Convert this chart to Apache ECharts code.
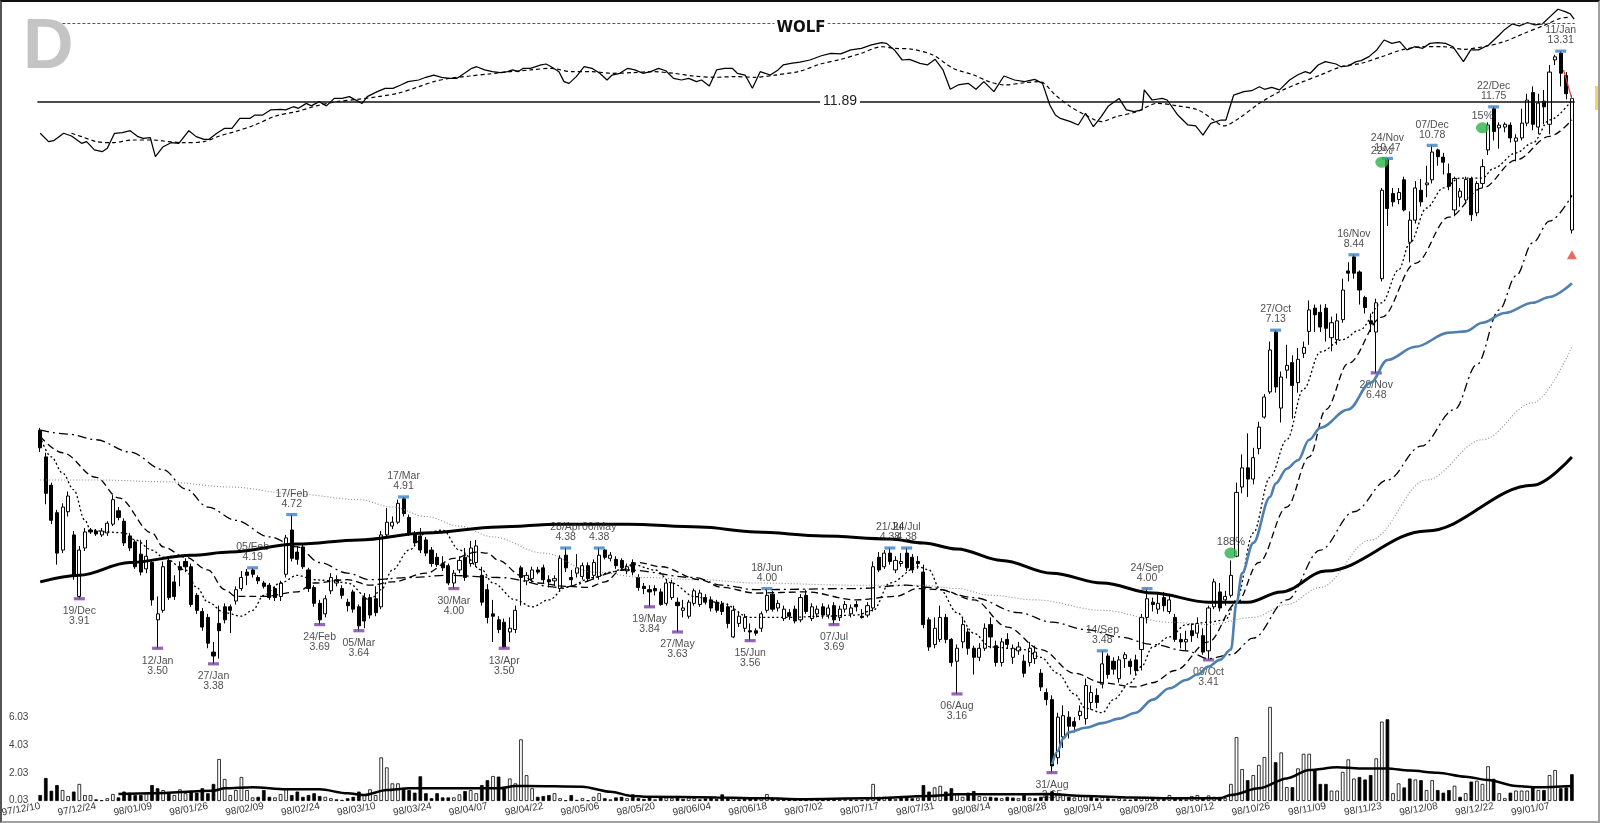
<!DOCTYPE html>
<html><head><meta charset="utf-8"><title>WOLF</title>
<script src="https://cdn.jsdelivr.net/npm/echarts/dist/echarts.min.js"></script>
<style>
html,body{margin:0;padding:0;background:#fff;}
#wrap{position:relative;width:1600px;height:823px;overflow:hidden;background:#fff;}
#c{position:absolute;left:0;top:0;width:1600px;height:823px;}
#frame{position:absolute;left:0;top:0;width:1600px;height:823px;box-sizing:border-box;border:2px solid #a0a0a0;border-top:2px solid #111;border-left:2px solid #555;pointer-events:none;}
</style></head><body>
<div id="wrap"><div id="c"></div><div id="frame"></div></div>
<script>
// ---------- DATA ----------
const ticker = 'WOLF';
const firstDay = '1997-12-10', lastDay = '1999-01-13';
const holidays = ['1997-12-25','1998-01-01','1998-01-19','1998-02-16','1998-04-10','1998-05-25','1998-07-03','1998-09-07','1998-11-26','1998-12-25','1999-01-01'];

const opens = [
5.70,5.37,5.04,4.74,4.36,4.75,4.51,3.93,4.38,4.56,
4.55,4.51,4.53,4.62,4.76,4.65,4.50,4.44,4.32,4.18,
4.24,3.73,3.81,4.26,4.06,4.20,4.25,4.20,3.94,3.80,
3.75,3.47,3.70,3.84,3.84,3.89,4.00,4.15,4.17,4.10,
4.05,4.03,4.00,3.93,4.13,4.56,4.34,4.39,4.17,4.01,
3.87,3.78,3.98,4.05,4.00,3.88,3.97,3.84,3.92,3.92,
3.91,3.84,4.51,4.60,4.64,4.89,4.69,4.51,4.50,4.46,
4.36,4.29,4.23,4.21,4.05,4.17,4.29,4.23,4.24,4.12,
3.99,3.78,3.73,3.71,3.63,3.65,4.19,4.07,4.09,4.17,
4.19,4.08,4.07,4.00,4.31,4.10,4.14,4.11,4.21,4.12,
4.11,4.36,4.28,4.27,4.26,4.16,4.24,4.10,4.02,3.99,
4.00,3.97,3.87,3.92,3.88,3.81,3.76,3.87,3.86,3.92,
3.90,3.88,3.86,3.84,3.59,3.70,3.66,3.64,3.64,3.66,
3.81,3.95,3.83,3.74,3.79,3.82,3.73,3.94,3.74,3.78,
3.84,3.77,3.85,3.75,3.82,3.78,3.86,3.76,3.77,3.83,
4.29,4.20,4.33,4.17,4.23,4.33,4.29,4.25,4.15,3.73,
3.53,3.57,3.75,3.57,3.40,3.55,3.63,3.50,3.43,3.50,
3.69,3.52,3.39,3.57,3.43,3.48,3.40,3.39,3.42,3.31,
3.17,3.12,2.74,2.87,3.00,2.97,3.01,2.99,3.10,3.15,
3.23,3.44,3.40,3.27,3.42,3.40,3.41,3.49,3.75,3.88,
3.82,3.92,3.80,3.75,3.57,3.55,3.64,3.62,3.60,3.48,
3.84,3.97,3.90,3.94,4.30,5.02,5.24,5.11,5.47,5.87,
6.21,7.10,5.99,6.52,6.63,6.34,6.77,7.11,7.49,7.42,
7.49,7.01,6.98,7.30,8.14,8.40,8.12,7.67,7.28,7.10,
8.00,10.45,9.68,9.55,9.98,8.68,9.12,9.75,9.87,9.98,
10.67,10.50,10.12,9.33,9.60,9.54,10.01,9.27,9.90,10.67,
11.70,11.21,11.23,11.28,10.88,10.96,11.33,12.13,11.23,11.90,
11.30,13.05,13.25,12.60,8.92];
const closes = [
5.48,4.95,4.66,4.33,4.80,4.92,4.12,4.36,4.54,4.54,
4.52,4.55,4.63,4.88,4.69,4.43,4.38,4.20,4.15,4.30,
3.90,3.78,4.20,3.92,3.93,4.17,4.20,3.86,3.81,3.67,
3.54,3.44,3.64,3.73,3.81,3.99,4.10,4.12,4.13,4.07,
4.02,3.92,3.92,4.05,4.48,4.28,4.27,4.20,4.00,3.87,
3.73,3.91,4.10,4.08,3.94,3.85,3.82,3.68,3.72,3.77,
3.79,4.51,4.64,4.64,4.84,4.73,4.53,4.43,4.36,4.33,
4.23,4.22,4.19,4.05,4.14,4.26,4.10,4.38,4.40,3.88,
3.75,3.76,3.65,3.51,3.66,3.81,4.10,4.12,4.17,4.15,
4.08,4.06,4.09,4.28,4.19,4.08,4.19,4.21,4.09,4.24,
4.31,4.29,4.31,4.21,4.19,4.20,4.15,4.01,4.00,3.97,
3.98,3.86,4.05,4.05,3.85,3.83,3.88,3.98,3.96,3.88,
3.83,3.81,3.80,3.70,3.81,3.76,3.75,3.63,3.62,3.78,
3.94,3.82,3.87,3.82,3.76,3.72,3.92,3.80,3.84,3.82,
3.77,3.83,3.73,3.82,3.86,3.83,3.84,3.75,3.85,4.20,
4.17,4.33,4.25,4.26,4.25,4.19,4.17,4.23,3.69,3.51,
3.66,3.75,3.57,3.39,3.50,3.69,3.50,3.43,3.50,3.66,
3.59,3.39,3.55,3.53,3.50,3.51,3.31,3.50,3.47,3.21,
3.12,2.69,3.00,3.01,2.94,2.94,3.04,3.22,3.17,3.10,
3.38,3.30,3.34,3.41,3.45,3.36,3.33,3.75,3.91,3.86,
3.87,3.85,3.90,3.57,3.55,3.57,3.60,3.70,3.47,3.83,
4.06,3.83,3.93,4.12,4.96,5.24,5.11,5.36,5.74,6.14,
6.82,6.28,6.42,6.59,6.30,6.68,6.86,7.46,7.38,7.18,
7.16,7.25,7.28,7.80,8.10,8.10,7.80,7.50,7.23,7.58,
9.75,9.36,9.50,9.70,9.33,9.12,9.80,9.50,9.91,10.62,
10.51,10.38,9.84,10.01,9.73,9.99,9.23,9.90,10.28,11.28,
11.12,11.28,11.30,10.96,10.96,11.33,11.93,11.30,11.85,11.75,
12.70,13.14,12.67,12.10,11.97];
const lows = [
5.43,4.83,4.62,4.22,4.33,4.70,4.08,3.91,4.35,4.52,
4.50,4.49,4.50,4.60,4.66,4.40,4.35,4.18,4.12,4.14,
3.85,3.50,3.79,3.90,3.90,4.02,4.15,3.84,3.78,3.64,
3.50,3.38,3.42,3.70,3.62,3.86,3.98,4.03,4.10,4.04,
4.00,3.90,3.89,3.89,4.10,4.25,4.22,4.18,3.97,3.84,
3.69,3.75,3.95,4.02,3.91,3.80,3.79,3.64,3.66,3.74,
3.76,3.82,4.49,4.57,4.62,4.70,4.50,4.40,4.33,4.30,
4.20,4.20,4.16,4.03,4.00,4.14,4.07,4.20,4.20,3.85,
3.70,3.55,3.62,3.50,3.55,3.62,3.85,4.03,4.05,4.13,
4.05,4.01,4.03,3.98,4.15,4.03,4.10,4.08,4.06,4.08,
4.08,4.27,4.25,4.18,4.16,4.13,4.12,3.98,3.95,3.84,
3.94,3.85,3.85,3.90,3.63,3.75,3.74,3.85,3.84,3.86,
3.80,3.79,3.77,3.66,3.58,3.67,3.63,3.56,3.60,3.63,
3.79,3.80,3.80,3.72,3.73,3.70,3.71,3.78,3.72,3.75,
3.74,3.74,3.69,3.72,3.79,3.75,3.80,3.74,3.75,3.80,
4.15,4.18,4.22,4.14,4.20,4.16,4.14,4.18,3.66,3.48,
3.50,3.55,3.54,3.36,3.16,3.50,3.45,3.30,3.40,3.48,
3.50,3.36,3.36,3.50,3.38,3.45,3.28,3.36,3.38,3.18,
3.08,2.65,2.70,2.80,2.86,2.90,2.98,2.95,3.05,3.06,
3.20,3.27,3.30,3.24,3.35,3.30,3.30,3.33,3.70,3.80,
3.78,3.80,3.78,3.55,3.50,3.48,3.55,3.58,3.45,3.41,
3.82,3.80,3.85,3.92,4.29,4.95,4.91,5.05,5.40,5.85,
6.18,6.20,5.80,6.40,5.85,6.20,6.70,6.90,7.10,7.10,
6.95,6.80,6.90,7.25,7.95,8.00,7.55,7.40,7.10,6.48,
7.95,9.00,9.40,9.45,9.30,8.30,9.05,9.40,9.60,9.90,
10.30,10.10,9.75,9.20,9.40,9.45,9.10,9.20,9.80,10.55,
10.90,10.70,11.10,10.85,10.40,10.90,11.25,11.15,11.05,11.30,
11.05,12.90,12.30,11.95,8.85];
const highs = [
5.73,5.42,5.07,4.77,4.84,4.97,4.55,4.40,4.58,4.58,
4.57,4.58,4.65,4.93,4.80,4.68,4.53,4.46,4.46,4.46,
4.27,3.93,4.25,4.30,4.12,4.25,4.28,4.23,3.96,3.83,
3.78,3.55,3.85,3.87,3.86,4.02,4.16,4.18,4.19,4.12,
4.07,4.05,4.02,4.07,4.51,4.72,4.40,4.42,4.19,4.03,
3.90,3.94,4.14,4.12,4.03,3.91,3.99,3.86,3.96,3.95,
4.02,4.55,4.79,4.70,4.88,4.91,4.72,4.55,4.58,4.49,
4.39,4.33,4.30,4.23,4.17,4.30,4.38,4.45,4.46,4.20,
4.04,3.90,3.76,3.74,3.75,3.85,4.21,4.15,4.20,4.20,
4.22,4.12,4.12,4.31,4.38,4.17,4.32,4.24,4.24,4.27,
4.38,4.37,4.34,4.30,4.28,4.23,4.27,4.13,4.05,4.03,
4.03,4.00,4.08,4.08,3.92,3.90,3.90,4.00,3.99,3.95,
3.93,3.90,3.89,3.87,3.85,3.80,3.78,3.70,3.66,3.80,
4.00,3.98,3.90,3.85,3.82,3.85,3.95,3.99,3.87,3.85,
3.87,3.86,3.88,3.85,3.89,3.86,3.89,3.82,3.88,4.25,
4.34,4.36,4.38,4.30,4.33,4.38,4.32,4.30,4.22,3.75,
3.75,3.85,3.78,3.58,3.53,3.75,3.66,3.52,3.54,3.70,
3.75,3.56,3.58,3.62,3.53,3.55,3.45,3.55,3.52,3.34,
3.20,3.15,3.03,3.08,3.04,3.00,3.08,3.27,3.22,3.20,
3.48,3.46,3.43,3.44,3.47,3.42,3.45,3.78,4.00,3.92,
3.95,3.97,3.95,3.78,3.62,3.64,3.70,3.75,3.66,3.85,
4.09,4.05,3.98,4.26,5.07,5.40,5.66,5.48,5.81,6.18,
6.95,7.13,6.50,6.90,6.74,6.85,6.95,7.62,7.55,7.55,
7.56,7.35,7.40,8.00,8.30,8.44,8.15,7.70,7.40,7.65,
9.80,10.47,9.80,9.80,10.05,9.30,9.95,10.00,10.30,10.78,
10.70,10.60,10.35,10.05,9.80,10.05,10.05,9.95,10.45,11.35,
11.75,11.35,11.35,11.35,11.05,11.70,12.10,12.30,12.10,12.20,
12.90,13.20,13.31,12.70,12.05];
// volume (millions)
const volumes = [
0.43,1.66,0.74,1.15,0.79,0.36,0.68,1.23,0.43,0.43,
0.12,0.05,0.20,0.50,0.26,0.68,0.60,0.43,0.43,0.56,
1.15,0.92,0.79,0.56,0.43,0.84,0.56,0.74,0.60,0.92,
0.56,1.23,3.02,1.59,0.43,0.79,1.73,0.79,0.26,0.30,
0.79,0.30,0.26,0.50,0.92,0.43,0.68,0.30,0.43,0.56,
0.36,0.30,0.20,0.12,0.08,0.20,0.30,0.68,0.43,0.84,
0.43,3.14,2.42,1.27,1.27,0.92,0.79,0.60,1.78,0.56,
0.20,0.56,0.26,0.26,0.26,0.48,0.72,0.79,0.56,1.15,
1.50,1.80,1.76,1.04,1.62,1.27,4.44,1.86,0.92,0.30,
0.36,0.43,0.56,0.20,0.05,0.43,0.08,0.20,0.05,0.30,
0.56,0.20,0.12,0.26,0.30,0.20,0.48,0.20,0.15,0.25,
0.12,0.30,0.25,0.20,0.36,0.15,0.25,0.20,0.12,0.18,
0.22,0.15,0.48,0.20,0.25,0.12,0.18,0.25,0.15,0.20,
0.50,0.20,0.12,0.15,0.10,0.12,0.08,0.10,0.12,0.15,
0.10,0.08,0.12,0.10,0.15,0.12,0.10,0.08,0.15,1.23,
0.30,0.30,0.20,0.15,0.36,0.36,0.20,0.25,1.15,0.68,
0.98,1.09,0.68,0.92,0.56,0.30,0.60,0.72,0.36,0.30,
0.30,0.25,0.20,0.30,0.25,0.20,0.43,0.25,0.20,0.30,
0.40,0.70,0.45,0.50,0.30,0.25,0.43,0.35,0.30,0.20,
0.30,0.20,0.15,0.20,0.12,0.10,0.15,0.25,0.20,0.15,
0.12,0.15,0.43,0.20,0.15,0.12,0.36,0.43,0.20,0.40,
0.30,0.30,0.20,1.23,4.60,2.30,1.50,1.87,2.60,3.17,
6.78,2.80,3.50,1.00,1.00,2.35,3.40,3.40,2.23,1.23,
1.23,0.75,0.75,2.10,3.00,1.62,1.73,1.55,1.87,3.07,
5.72,5.89,0.56,1.27,0.98,1.62,1.55,1.50,0.79,1.50,
0.79,0.60,0.79,1.10,0.30,0.56,1.40,1.46,1.23,2.50,
1.60,0.56,0.20,0.60,0.75,0.75,0.75,0.98,0.79,0.79,
1.87,2.23,0.92,0.98,1.93];
const volTicks = [0.03, 2.03, 4.03, 6.03];
const volAvg = [[14,0.50],[20,0.55],[31,0.74],[33,0.91],[38,0.99],[44,0.84],[50,0.84],[55,0.55],[58,0.43],[62,0.79],[66,0.91],[75,0.91],[82,0.91],[85,1.08],[87,1.08],[97,1.03],[102,0.67],[106,0.36],[108,0.31],[121,0.26],[130,0.19],[136,0.12],[148,0.19],[159,0.36],[164,0.48],[173,0.48],[180,0.50],[187,0.36],[195,0.26],[204,0.19],[211,0.19],[213,0.43],[218,0.91],[223,1.63],[227,2.23],[232,2.43],[236,2.35],[241,2.35],[245,2.19],[250,2.04],[255,1.75],[259,1.51],[264,1.08],[268,0.99],[274,1.08]];

// moving averages on price [dayIndex, price]
const maFast = [[0,5.62],[2,5.37],[4,5.18],[6,4.99],[8,4.66],[9,4.56],[12,4.54],[15,4.53],[17,4.46],[20,4.36],[22,4.29],[26,4.17],[28,4.01],[30,3.88],[33,3.79],[36,3.76],[38,3.81],[40,3.94],[43,4.05],[46,4.12],[49,4.08],[52,4.07],[55,4.05],[59,3.90],[61,3.99],[63,4.17],[66,4.36],[69,4.53],[72,4.56],[75,4.36],[79,4.17],[81,4.05],[85,3.90],[88,3.84],[91,3.90],[94,4.01],[99,4.10],[102,4.15],[106,4.22],[110,4.17],[113,4.05],[117,3.93],[122,3.87],[127,3.75],[134,3.75],[140,3.76],[146,3.77],[149,3.81],[152,4.05],[157,4.20],[159,4.17],[161,3.99],[164,3.79],[167,3.62],[170,3.51],[176,3.49],[179,3.43],[182,3.31],[185,3.16],[187,3.06],[190,3.03],[192,3.12],[195,3.24],[197,3.36],[199,3.51],[202,3.59],[205,3.69],[209,3.71],[212,3.73],[214,3.90],[217,4.53],[220,5.13],[223,5.58],[226,6.25],[229,6.79],[233,6.98],[236,7.13],[240,7.58],[243,8.16],[245,8.66],[248,9.37],[251,9.80],[254,10.02],[258,10.02],[260,10.24],[264,10.60],[267,10.84],[270,11.41],[274,11.93]];
const maMid = [[0,5.62],[4,5.42],[10,5.13],[14,4.90],[20,4.53],[22,4.39],[26,4.29],[30,4.17],[33,3.99],[35,3.93],[40,3.93],[46,3.97],[49,4.05],[55,4.08],[59,4.03],[63,4.06],[69,4.14],[74,4.28],[78,4.34],[80,4.33],[82,4.26],[86,4.12],[89,4.05],[94,4.02],[98,4.01],[101,4.06],[104,4.17],[107,4.24],[111,4.20],[118,4.08],[122,4.01],[128,3.96],[137,3.97],[146,3.90],[153,3.93],[157,4.00],[161,3.99],[167,3.90],[173,3.67],[179,3.49],[185,3.31],[190,3.24],[196,3.21],[199,3.24],[203,3.33],[209,3.55],[214,3.87],[218,4.24],[223,4.80],[227,5.37],[230,5.97],[234,6.62],[240,7.34],[246,8.28],[252,9.18],[258,9.80],[264,10.43],[270,11.00],[274,11.41]];
const maSlow = [[0,5.70],[5,5.65],[10,5.58],[16,5.43],[22,5.22],[26,5.00],[30,4.80],[35,4.66],[41,4.49],[46,4.39],[50,4.24],[55,4.14],[59,4.08],[66,4.10],[73,4.12],[82,4.10],[93,4.01],[105,4.17],[117,4.10],[122,4.03],[128,3.99],[146,4.00],[155,4.03],[159,4.01],[167,3.92],[175,3.79],[181,3.71],[187,3.65],[193,3.59],[199,3.53],[205,3.48],[209,3.42],[213,3.45],[217,3.58],[223,3.90],[229,4.36],[235,4.75],[241,5.10],[247,5.50],[253,5.97],[257,6.60],[261,7.46],[264,8.05],[267,8.67],[270,9.10],[274,9.64]];
const maGrey = [[0,5.10],[10,5.10],[22,5.08],[34,5.02],[46,4.94],[57,4.88],[63,4.80],[69,4.70],[75,4.60],[81,4.49],[90,4.33],[99,4.15],[108,4.10],[118,4.08],[128,4.05],[146,4.03],[158,4.03],[164,4.00],[170,3.94],[178,3.90],[190,3.81],[202,3.71],[209,3.69],[217,3.75],[223,3.86],[229,4.01],[238,4.46],[248,5.10],[258,5.58],[267,6.06],[274,6.87]];
const maLong = [[0,4.06],[7,4.12],[16,4.24],[27,4.31],[34,4.34],[46,4.42],[57,4.46],[69,4.53],[82,4.59],[93,4.62],[105,4.62],[118,4.59],[128,4.54],[140,4.50],[152,4.47],[158,4.43],[164,4.37],[172,4.26],[181,4.14],[190,4.05],[199,3.96],[209,3.88],[216,3.88],[222,3.97],[230,4.16],[248,4.55],[267,5.04],[274,5.37]];
const anchoredLine = [[181,2.70],[182,2.78],[183,2.86],[184,2.90],[187,2.93],[190,2.96],[193,2.99],[196,3.03],[199,3.12],[202,3.20],[205,3.26],[207,3.30],[209,3.36],[211,3.41],[213,3.49],[214,3.87],[215,4.14],[217,4.43],[220,4.91],[221,5.06],[223,5.23],[225,5.33],[227,5.58],[229,5.73],[234,5.97],[238,6.34],[241,6.67],[246,6.87],[252,7.09],[255,7.11],[258,7.25],[262,7.41],[267,7.58],[270,7.68],[274,7.92]];
const stopLine = [[272.5,12.76],[274,11.96]];

// relative strength line and its average [dayIndex, RS]
const rsLine = [[0,16.7],[1.5,11.5],[2.4,12.1],[4.2,16.7],[5.6,15.0],[7.4,10.4],[8.3,11.5],[9.7,6.3],[11.1,5.2],[12.0,7.3],[13.3,16.7],[14.7,17.1],[16.1,18.3],[17.5,14.6],[18.4,13.5],[19.7,14.0],[20.6,2.1],[22.0,8.3],[23.4,10.8],[24.8,10.4],[26.6,18.3],[27.9,14.6],[29.3,12.9],[30.2,12.9],[31.6,16.7],[33.0,19.8],[34.3,19.8],[35.7,26.0],[37.5,26.0],[38.4,28.1],[39.8,28.1],[41.2,31.3],[43.0,31.7],[43.9,31.3],[45.3,33.3],[46.2,32.3],[47.6,35.4],[48.5,33.8],[49.9,36.5],[51.2,33.8],[52.6,38.5],[54.0,38.5],[55.3,39.6],[56.2,37.9],[57.6,35.4],[58.5,39.6],[60.3,42.7],[61.7,44.8],[63.1,44.8],[64.5,46.9],[65.8,49.0],[67.7,50.0],[69.0,51.7],[70.4,53.1],[71.8,51.7],[73.1,51.0],[74.5,51.0],[75.9,54.2],[77.2,57.3],[78.1,58.3],[79.5,56.3],[80.9,55.2],[82.3,54.6],[83.6,55.2],[84.5,56.3],[85.5,55.2],[86.4,57.3],[87.7,57.3],[89.6,59.4],[90.5,60.0],[91.4,58.3],[92.8,55.2],[93.7,49.0],[94.6,47.9],[95.9,52.1],[97.3,58.3],[98.7,57.3],[100.1,54.2],[101.4,50.0],[102.3,53.1],[103.7,54.2],[105.1,57.3],[106.4,56.3],[107.8,54.2],[109.2,55.2],[110.6,57.3],[111.9,55.8],[113.3,51.0],[114.7,50.0],[116.0,51.0],[117.4,49.0],[118.3,50.0],[119.7,46.3],[121.0,56.3],[122.4,57.3],[123.8,57.3],[124.7,54.2],[126.1,53.1],[127.4,44.8],[128.8,55.2],[129.7,54.2],[130.6,53.1],[132.0,56.3],[132.9,59.4],[134.3,60.4],[135.9,61.2],[137.7,62.5],[139.6,65.0],[141.4,66.7],[143.2,66.3],[145.0,68.8],[146.9,69.8],[148.7,71.9],[150.5,73.3],[151.4,72.9],[152.8,68.8],[154.2,62.5],[155.5,62.9],[157.4,60.4],[158.7,59.4],[160.1,62.9],[161.5,56.3],[162.8,44.2],[164.2,46.9],[166.0,47.9],[167.4,44.2],[168.8,49.0],[170.6,42.7],[172.4,52.5],[174.3,50.0],[176.1,49.0],[177.9,50.4],[179.3,47.9],[180.6,34.4],[181.6,28.1],[182.5,26.0],[184.3,24.0],[185.7,21.9],[187.0,29.2],[188.4,20.8],[189.8,27.1],[191.1,33.8],[193.0,38.5],[194.3,31.3],[195.7,30.2],[197.1,31.3],[197.5,43.8],[198.9,37.5],[200.7,38.5],[201.6,37.5],[203.5,28.1],[205.3,21.9],[206.7,21.3],[208.0,15.6],[209.4,22.9],[211.2,25.0],[212.1,25.0],[213.5,40.6],[215.3,42.7],[216.7,43.3],[218.1,45.8],[219.0,44.2],[220.3,45.4],[221.7,43.8],[223.5,50.0],[224.9,53.1],[226.3,55.2],[227.2,54.2],[228.6,59.4],[229.9,61.5],[231.8,60.0],[232.7,58.3],[234.0,58.8],[235.4,61.5],[236.3,62.1],[237.7,64.6],[239.1,68.8],[240.4,75.0],[241.8,72.9],[243.2,74.0],[244.5,68.8],[245.9,70.8],[247.3,69.8],[248.6,72.9],[250.0,73.3],[251.4,72.9],[252.7,70.8],[254.6,61.5],[255.9,68.8],[257.3,68.8],[259.1,71.9],[261.0,78.1],[261.9,81.3],[263.3,85.0],[264.6,83.8],[266.0,85.8],[267.4,84.4],[268.7,85.0],[270.1,89.6],[271.5,94.2],[272.8,92.7],[273.7,91.3],[274.4,88.0]];
const rsAvg = [[5.6,16.7],[7.4,14.6],[10.1,11.5],[12.9,10.8],[16.5,12.5],[20.2,12.5],[22.9,11.5],[25.7,10.8],[29.3,11.5],[32.1,15.0],[34.8,17.7],[38.4,21.9],[42.1,27.5],[45.8,30.2],[49.4,33.8],[53.1,36.5],[56.7,37.9],[60.4,39.6],[64.0,41.7],[67.7,45.8],[70.4,49.0],[73.1,51.0],[76.8,52.5],[80.4,53.8],[84.1,55.2],[87.7,56.3],[91.4,57.3],[95.0,55.2],[98.7,55.2],[102.3,54.2],[106.0,54.6],[109.6,55.2],[113.3,54.2],[116.9,52.5],[120.6,51.7],[124.2,52.1],[127.9,51.7],[131.5,53.1],[135.9,55.5],[139.6,60.0],[143.2,62.9],[146.9,66.7],[150.5,70.8],[152.8,69.8],[156.0,69.2],[159.7,65.6],[163.3,57.3],[167.0,53.1],[169.7,49.0],[172.4,46.9],[176.1,48.3],[178.8,49.0],[181.6,40.6],[184.3,33.3],[187.0,28.1],[189.8,24.0],[192.5,27.1],[196.2,30.2],[199.8,35.4],[203.5,33.8],[207.1,31.3],[209.9,25.0],[211.7,21.3],[214.4,26.0],[218.1,35.4],[221.7,42.7],[225.4,48.3],[229.0,53.1],[232.7,58.3],[236.3,60.4],[240.0,64.6],[243.6,68.8],[247.3,70.8],[250.9,70.8],[254.6,69.2],[258.2,70.8],[261.9,74.0],[265.5,79.2],[269.2,84.4],[271.9,88.5],[273.7,89.2]];

// price levels
const levelPrice = 11.89;
const topLinePrice = 14.16;

// annotations [dayIndex, date label, price label]
const highMarks = [[38,'05/Feb','4.19'],[45,'17/Feb','4.72'],[65,'17/Mar','4.91'],[94,'28/Apr','4.38'],[100,'06/May','4.38'],[130,'18/Jun','4.00'],[152,'21/Jul','4.38'],[155,'24/Jul','4.38'],[190,'14/Sep','3.48'],[198,'24/Sep','4.00'],[221,'27/Oct','7.13'],[235,'16/Nov','8.44'],[241,'24/Nov','10.47'],[249,'07/Dec','10.78'],[260,'22/Dec','11.75'],[272,'11/Jan','13.31']];
const lowMarks = [[7,'19/Dec','3.91'],[21,'12/Jan','3.50'],[31,'27/Jan','3.38'],[50,'24/Feb','3.69'],[57,'05/Mar','3.64'],[74,'30/Mar','4.00'],[83,'13/Apr','3.50'],[109,'19/May','3.84'],[114,'27/May','3.63'],[127,'15/Jun','3.56'],[142,'07/Jul','3.69'],[164,'06/Aug','3.16'],[181,'31/Aug','2.65'],[209,'09/Oct','3.41'],[239,'20/Nov','6.48']];
const buySignals = [[213,4.33,'188%'],[240,10.38,'22%'],[258,11.21,'15%']];
const sellSignals = [[274,8.44]];

// ---------- BUILD ----------
function tradingDays(){
  const out=[]; const hs=new Set(holidays);
  const d=new Date(firstDay+'T00:00:00Z'), end=new Date(lastDay+'T00:00:00Z');
  while(d<=end){
    const wd=d.getUTCDay(); const iso=d.toISOString().slice(0,10);
    if(wd!==0&&wd!==6&&!hs.has(iso)) out.push(iso.slice(2,4)+'/'+iso.slice(5,7)+'/'+iso.slice(8,10));
    d.setUTCDate(d.getUTCDate()+1);
  }
  return out;
}
const dates = tradingDays();
const N = dates.length;
const candles = opens.map((o,i)=>[o, closes[i], lows[i], highs[i]]);
const volData = volumes.map((v,i)=>{
  const up = i===0 ? closes[0]>=opens[0] : closes[i]>=closes[i-1];
  return {value:v, itemStyle:{color: up?'#ffffff':'#000000'}};
});

const NARROW = "'Liberation Sans Narrow','Liberation Sans',Arial,sans-serif";
const GL = 37.4, GR = 25.3;
const P_TOP = 14.756, P_BOTTOM = 2.549;

function line(data, style, opts){
  return Object.assign({type:'line', xAxisIndex:2, yAxisIndex:0, data, symbol:'none', showSymbol:false,
    smooth:0.35, smoothMonotone:'x', silent:true, animation:false, lineStyle:style, z:3}, opts||{});
}
const annoLabel = {show:true, fontSize:10.5, lineHeight:10, color:'#222', fontFamily:NARROW, formatter:p=>p.name};

const option = {
  animation:false,
  backgroundColor:'#fff',
  textStyle:{fontFamily:"'Liberation Sans',Arial,sans-serif"},
  grid:[
    {left:GL, right:GR, top:5, bottom:33, outerBoundsMode:'none'},
    {left:GL, right:GR, top:690, bottom:22, outerBoundsMode:'none'},
    {left:GL, right:GR, top:0, height:160, outerBoundsMode:'none'}
  ],
  xAxis:[
    {type:'category', gridIndex:0, data:dates, show:false, boundaryGap:true},
    {type:'category', gridIndex:1, data:dates, boundaryGap:true,
      axisLine:{show:false}, axisTick:{show:false}, splitLine:{show:false},
      axisLabel:{interval:(idx)=>idx%10===0, rotate:10, margin:5, fontSize:10, color:'#333', fontFamily:NARROW}},
    {type:'value', gridIndex:0, min:-0.5, max:N-0.5, show:false},
    {type:'value', gridIndex:2, min:-0.5, max:N-0.5, show:false},
    {type:'value', gridIndex:1, min:-0.5, max:N-0.5, show:false}
  ],
  yAxis:[
    {type:'log', gridIndex:0, logBase:10, min:P_BOTTOM, max:P_TOP, show:false},
    {type:'value', gridIndex:1, min:0, max:8, interval:2,
      axisLine:{show:false}, axisTick:{show:false}, splitLine:{show:false},
      axisLabel:{customValues:volTicks, formatter:v=>Number(v).toFixed(2), fontSize:10, color:'#444', fontFamily:NARROW, margin:9}},
    {type:'value', gridIndex:2, min:0, max:100, show:false}
  ],
  series:[
    {type:'candlestick', name:'price', xAxisIndex:0, yAxisIndex:0, data:candles, barWidth:3.6, silent:true,
      itemStyle:{color:'#ffffff', color0:'#000000', borderColor:'#000000', borderColor0:'#000000', borderWidth:1},
      markLine:{symbol:'none', silent:true, animation:false, label:{show:false},
        data:[
          {yAxis:levelPrice, lineStyle:{color:'#111', width:1.5, type:'solid'}},
          {yAxis:topLinePrice, lineStyle:{color:'#555', width:1, type:[3,2]}}
        ]}
    },
    line(maGrey, {color:'#8c8c8c', width:1.1, type:[1,2]}),
    line(maLong, {color:'#000', width:3}),
    line(maSlow, {color:'#000', width:1.3, type:[9,4,2,4]}),
    line(maMid, {color:'#000', width:1.3, type:[7,4]}),
    line(maFast, {color:'#000', width:1.3, type:[2,2.5]}),
    line(anchoredLine, {color:'#4f80b0', width:2.6}),
    line(stopLine, {color:'#e03a3a', width:1.2}, {smooth:false}),
    {type:'scatter', xAxisIndex:0, yAxisIndex:0, silent:true, z:5,
      data:highMarks.map(m=>({value:[m[0], parseFloat(m[2])], name:m[1]+'\n'+m[2]})),
      symbol:'rect', symbolSize:[11,3.2], itemStyle:{color:'#3b80c6'},
      label:Object.assign({position:'top', distance:4}, annoLabel)},
    {type:'scatter', xAxisIndex:0, yAxisIndex:0, silent:true, z:2,
      data:lowMarks.map(m=>({value:[m[0], parseFloat(m[2])], name:m[1]+'\n'+m[2]})),
      symbol:'rect', symbolSize:[11,3.2], itemStyle:{color:'#7b3fa3'},
      label:Object.assign({position:'bottom', distance:6}, annoLabel)},
    {type:'scatter', xAxisIndex:0, yAxisIndex:0, silent:true, z:5,
      data:buySignals.map(s=>({value:[s[0], s[1]], name:s[2]})),
      symbol:'circle', symbolSize:[13,11], itemStyle:{color:'#2db34a'},
      label:Object.assign({position:'top', distance:1}, annoLabel, {fontSize:11})},
    {type:'scatter', xAxisIndex:0, yAxisIndex:0, silent:true, z:5,
      data:sellSignals, symbol:'triangle', symbolSize:[10,9], itemStyle:{color:'#e8453c'}},
    {type:'bar', xAxisIndex:1, yAxisIndex:1, data:volData, barWidth:3.6, silent:true, z:4,
      itemStyle:{borderColor:'#000', borderWidth:0.8}},
    {type:'line', xAxisIndex:4, yAxisIndex:1, data:volAvg, symbol:'none', smooth:0.3, smoothMonotone:'x', silent:true, z:6,
      lineStyle:{color:'#000', width:2.5}},
    {type:'line', xAxisIndex:3, yAxisIndex:2, data:rsLine, symbol:'none', silent:true, z:3,
      lineStyle:{color:'#000', width:1.25}},
    {type:'line', xAxisIndex:3, yAxisIndex:2, data:rsAvg, symbol:'none', smooth:0.3, silent:true, z:3,
      lineStyle:{color:'#000', width:1.2, type:[4,3]}}
  ],
  graphic:[
    {type:'text', x:23, y:49, z:100, silent:true, style:{text:'D', font:'bold 70px "Liberation Sans", Arial, sans-serif', fill:'#c4c4c4', align:'left', verticalAlign:'middle'}},
    {type:'text', x:801, y:28.5, z:100, silent:true, style:{text:ticker, font:'bold 15px "DejaVu Sans", sans-serif', fill:'#111', align:'center', verticalAlign:'middle', backgroundColor:'#fff', padding:[1,2]}},
    {type:'text', x:840, y:101.5, z:100, silent:true, style:{text:levelPrice.toFixed(2), font:'14px "Liberation Sans", Arial, sans-serif', fill:'#222', align:'center', verticalAlign:'middle', backgroundColor:'#fff', padding:[0,3]}},
    {type:'rect', z:100, silent:true, shape:{x:1595, y:86, width:3, height:24}, style:{fill:'#f2d46e'}}
  ]
};
const chart = echarts.init(document.getElementById('c'), null, {renderer:'canvas'});
chart.setOption(option);
</script></body></html>
